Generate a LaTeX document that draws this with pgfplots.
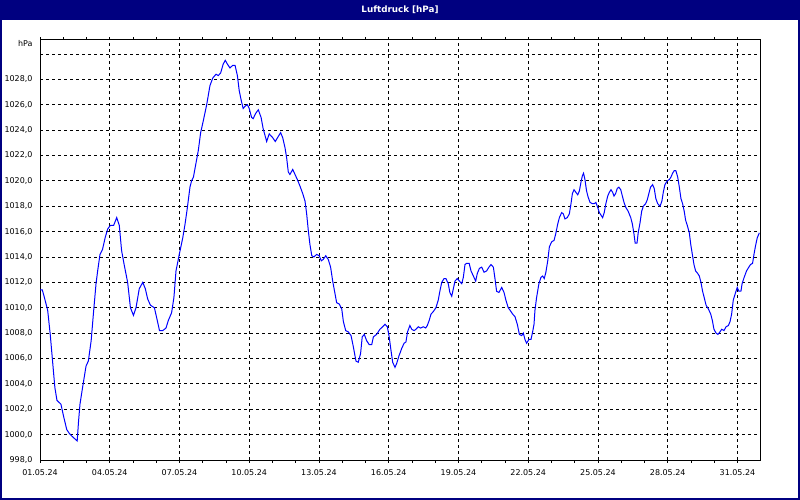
\documentclass[border=0pt]{standalone}
\usepackage{fontspec}
\setmainfont{DejaVu Sans}
\usepackage{pgfplots}
\pgfplotsset{compat=1.18}
\definecolor{navy}{RGB}{0,0,128}
\definecolor{curve}{RGB}{0,0,255}
\begin{document}
\begin{tikzpicture}
% window frame
\fill[white] (0,0) rectangle (800bp,500bp);
\fill[navy] (0,480bp) rectangle (800bp,500bp);
\draw[navy, line width=2bp] (1bp,1bp) rectangle (799bp,499bp);
\node[white, font=\fontsize{8.8}{10}\selectfont\bfseries] at (400bp,490bp) {Luftdruck [hPa]};
\begin{axis}[
    name=ax,
    at={(40bp,40bp)}, anchor=south west,
    scale only axis,
    width=720bp, height=420bp,
    xmin=0, xmax=30.97,
    ymin=998, ymax=1031.1,
    xtick={0,3,...,30},
    xticklabels={01.05.24,04.05.24,07.05.24,10.05.24,13.05.24,16.05.24,19.05.24,22.05.24,25.05.24,28.05.24,31.05.24},
    minor xtick={0,1,...,30},
    ytick={998,1000,...,1028},
    yticklabels={{998,0},{1000,0},{1002,0},{1004,0},{1006,0},{1008,0},{1010,0},{1012,0},{1014,0},{1016,0},{1018,0},{1020,0},{1022,0},{1024,0},{1026,0},{1028,0}},
    extra y ticks={1030},
    extra y tick labels={},
    tick align=outside,
    major tick length=2.5bp,
    minor tick length=2.5bp,
    ytick style={draw=none},
    xtick style={black, line width=0.8bp},
    xmajorgrids=true, ymajorgrids=true,
    major grid style={black, line width=0.8bp, dash pattern=on 3bp off 3bp},
    axis line style={black, line width=1bp},
    tick label style={font=\fontsize{8}{9}\selectfont, black},
    yticklabel style={xshift=-1.5bp},
    xticklabel style={yshift=-4bp},
]
\addplot[color=curve, line width=1bp] coordinates {
(0,1011.4)(0.1,1011.4)(0.19,1010.8)(0.33,1009.8)(0.44,1007.9)(0.54,1005.8)(0.64,1003.7)(0.73,1002.7)(0.9,1002.4)(1.02,1001.4)(1.15,1000.4)(1.26,1000.1)(1.36,999.9)(1.48,999.7)(1.6,999.5)(1.66,1001.1)(1.72,1002.4)(1.83,1003.7)(1.98,1005.4)(2.08,1005.8)(2.2,1007.4)(2.31,1009.8)(2.41,1011.9)(2.48,1012.9)(2.58,1014.2)(2.69,1014.6)(2.8,1015.5)(2.91,1016.2)(3.03,1016.5)(3.17,1016.5)(3.3,1017.1)(3.41,1016.5)(3.51,1014.5)(3.63,1013.3)(3.77,1012.0)(3.89,1010.0)(4.02,1009.4)(4.13,1010.0)(4.27,1011.5)(4.42,1012.0)(4.53,1011.5)(4.63,1010.7)(4.75,1010.2)(4.92,1010.0)(5.02,1009.2)(5.14,1008.2)(5.28,1008.2)(5.42,1008.4)(5.52,1009.0)(5.66,1009.6)(5.76,1010.8)(5.85,1012.9)(5.99,1014.2)(6.14,1015.5)(6.24,1016.6)(6.34,1017.9)(6.45,1019.5)(6.52,1020.0)(6.6,1020.3)(6.7,1021.3)(6.81,1022.4)(6.91,1023.8)(7.02,1024.7)(7.17,1026.0)(7.31,1027.5)(7.43,1028.1)(7.57,1028.4)(7.67,1028.3)(7.77,1028.5)(7.88,1029.2)(7.97,1029.5)(8.06,1029.2)(8.17,1028.9)(8.29,1029.1)(8.39,1029.1)(8.49,1028.3)(8.57,1027.1)(8.66,1026.3)(8.74,1025.7)(8.83,1025.9)(8.92,1026.0)(9.0,1025.7)(9.1,1025.0)(9.17,1024.9)(9.27,1025.3)(9.39,1025.6)(9.51,1025.0)(9.6,1024.1)(9.75,1023.1)(9.86,1023.7)(10.01,1023.4)(10.12,1023.1)(10.25,1023.5)(10.35,1023.8)(10.44,1023.4)(10.54,1022.6)(10.61,1021.8)(10.68,1020.7)(10.75,1020.5)(10.87,1020.9)(10.97,1020.5)(11.07,1020.1)(11.18,1019.6)(11.3,1019.0)(11.4,1018.4)(11.47,1017.4)(11.54,1016.1)(11.61,1015.0)(11.69,1014.1)(11.78,1014.0)(11.9,1014.2)(12.01,1014.1)(12.1,1013.7)(12.18,1013.8)(12.29,1014.1)(12.4,1013.8)(12.5,1013.2)(12.59,1012.1)(12.69,1011.1)(12.76,1010.4)(12.87,1010.3)(12.98,1009.9)(13.05,1008.9)(13.15,1008.2)(13.26,1008.1)(13.38,1007.8)(13.48,1006.9)(13.59,1005.8)(13.69,1005.7)(13.79,1006.4)(13.86,1007.7)(13.95,1007.9)(14.05,1007.4)(14.16,1007.1)(14.27,1007.1)(14.34,1007.7)(14.48,1007.9)(14.62,1008.3)(14.74,1008.5)(14.84,1008.7)(14.94,1008.5)(15.02,1007.7)(15.1,1006.6)(15.17,1005.7)(15.27,1005.3)(15.34,1005.6)(15.44,1006.2)(15.56,1006.8)(15.66,1007.2)(15.74,1007.3)(15.81,1008.1)(15.91,1008.6)(15.99,1008.3)(16.09,1008.2)(16.17,1008.3)(16.27,1008.5)(16.37,1008.4)(16.49,1008.5)(16.59,1008.4)(16.66,1008.6)(16.74,1009.0)(16.82,1009.5)(16.92,1009.7)(17.03,1010.0)(17.13,1010.6)(17.2,1011.3)(17.28,1012.0)(17.38,1012.3)(17.46,1012.3)(17.56,1011.9)(17.63,1011.2)(17.71,1010.9)(17.78,1011.5)(17.85,1012.1)(17.95,1012.3)(18.04,1012.1)(18.14,1011.9)(18.21,1012.4)(18.28,1013.4)(18.35,1013.5)(18.46,1013.5)(18.54,1012.9)(18.64,1012.5)(18.74,1012.1)(18.81,1012.7)(18.9,1013.1)(19.0,1013.2)(19.1,1012.8)(19.21,1012.9)(19.31,1013.2)(19.4,1013.4)(19.5,1013.2)(19.57,1012.3)(19.64,1011.3)(19.74,1011.2)(19.86,1011.6)(19.96,1011.2)(20.04,1010.6)(20.14,1010.0)(20.22,1009.8)(20.33,1009.5)(20.43,1009.3)(20.53,1008.7)(20.62,1007.9)(20.72,1007.8)(20.79,1008.0)(20.86,1007.5)(20.93,1007.2)(21.03,1007.5)(21.12,1007.5)(21.19,1008.1)(21.25,1008.7)(21.29,1009.8)(21.36,1010.8)(21.46,1011.9)(21.55,1012.4)(21.62,1012.5)(21.69,1012.3)(21.76,1012.8)(21.84,1013.7)(21.91,1014.8)(22.01,1015.2)(22.11,1015.3)(22.18,1015.8)(22.27,1016.6)(22.34,1017.1)(22.44,1017.5)(22.51,1017.4)(22.58,1017.0)(22.68,1017.1)(22.77,1017.4)(22.84,1018.2)(22.9,1019.0)(22.97,1019.3)(23.05,1019.1)(23.13,1018.9)(23.2,1019.2)(23.27,1019.9)(23.33,1020.4)(23.38,1020.6)(23.44,1020.1)(23.51,1019.2)(23.58,1018.7)(23.66,1018.3)(23.76,1018.2)(23.84,1018.2)(23.91,1018.3)(23.99,1017.9)(24.06,1017.5)(24.13,1017.3)(24.2,1017.1)(24.27,1017.5)(24.34,1018.2)(24.42,1018.8)(24.49,1019.1)(24.56,1019.3)(24.63,1019.1)(24.69,1018.8)(24.76,1019.0)(24.83,1019.4)(24.9,1019.5)(24.98,1019.3)(25.05,1018.8)(25.12,1018.3)(25.2,1017.9)(25.3,1017.6)(25.41,1017.1)(25.48,1016.6)(25.55,1015.8)(25.6,1015.1)(25.68,1015.1)(25.73,1015.9)(25.81,1016.7)(25.88,1017.6)(25.95,1018.0)(26.05,1018.2)(26.12,1018.5)(26.19,1019.0)(26.26,1019.5)(26.35,1019.7)(26.42,1019.4)(26.49,1018.6)(26.57,1018.2)(26.67,1018.0)(26.75,1018.4)(26.81,1019.1)(26.88,1019.7)(26.98,1020.0)(27.07,1020.1)(27.14,1020.3)(27.21,1020.6)(27.28,1020.8)(27.35,1020.8)(27.43,1020.3)(27.5,1019.5)(27.57,1018.6)(27.64,1018.2)(27.71,1017.6)(27.77,1016.9)(27.84,1016.5)(27.93,1015.9)(27.99,1015.0)(28.06,1014.2)(28.13,1013.4)(28.2,1012.9)(28.29,1012.7)(28.36,1012.5)(28.43,1012.0)(28.5,1011.3)(28.57,1010.8)(28.65,1010.2)(28.75,1009.9)(28.85,1009.5)(28.92,1009.0)(28.99,1008.3)(29.08,1008.0)(29.16,1007.9)(29.25,1008.1)(29.32,1008.3)(29.42,1008.2)(29.51,1008.5)(29.61,1008.6)(29.68,1008.9)(29.75,1009.5)(29.82,1010.6)(29.92,1011.2)(29.99,1011.6)(30.06,1011.3)(30.15,1011.3)(30.2,1011.9)(30.29,1012.4)(30.39,1012.9)(30.49,1013.2)(30.56,1013.4)(30.65,1013.5)(30.71,1014.2)(30.78,1014.9)(30.85,1015.5)(30.94,1015.9)
};
\end{axis}
\node[anchor=east, font=\fontsize{8}{9}\selectfont] at ([xshift=-4bp,yshift=-4bp]ax.north west) {hPa};
\end{tikzpicture}
\end{document}
